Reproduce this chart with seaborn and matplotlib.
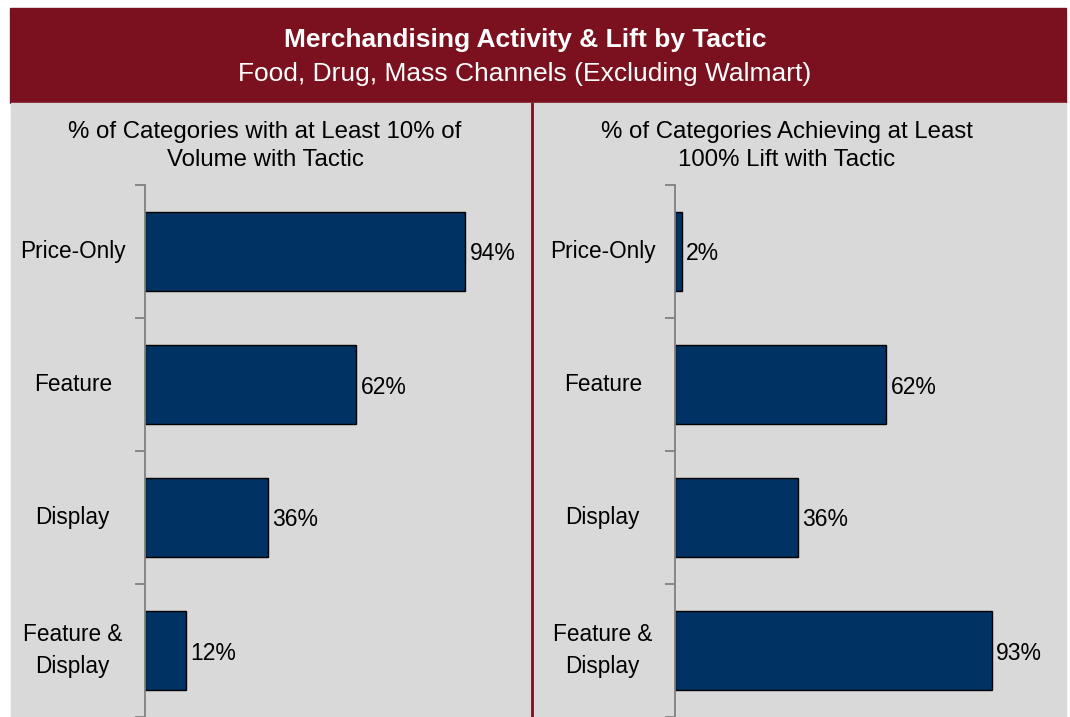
import seaborn as sns
import matplotlib.pyplot as plt
import pandas as pd
from matplotlib.patches import Rectangle
from matplotlib.lines import Line2D

tactics = ["Price-Only", "Feature", "Display", "Feature &\nDisplay"]
volume_pct = [94, 62, 36, 12]
lift_pct = [2, 62, 36, 93]

title = "Merchandising Activity & Lift by Tactic"
subtitle = "Food, Drug, Mass Channels (Excluding Walmart)"
left_title = "% of Categories with at Least 10% of\nVolume with Tactic"
right_title = "% of Categories Achieving at Least\n100% Lift with Tactic"

MAROON = "#7B111E"
PANEL = "#D9D9D9"
NAVY = "#003263"
W, H = 1070, 717

sns.set_theme(style="white")
plt.rcParams['font.family'] = ['Liberation Sans', 'DejaVu Sans']

fig = plt.figure(figsize=(W / 100, H / 100), dpi=100)
fig.patch.set_facecolor("white")

# banner and grey panel
fig.patches.append(Rectangle((10 / W, 1 - 103 / H), 1056 / W, 95 / H,
                             transform=fig.transFigure, color=MAROON, zorder=-2))
fig.patches.append(Rectangle((11 / W, 0), 1055 / W, 1 - 103 / H,
                             transform=fig.transFigure, color=PANEL, zorder=-2))
fig.lines.append(Line2D([532 / W, 532 / W], [0, 1 - 103 / H], transform=fig.transFigure,
                        color=MAROON, lw=2, zorder=-1))

fig.text(525 / W, 1 - 40 / H, title, color="white", fontsize=19, fontweight="bold",
         ha="center", va="center")
fig.text(525 / W, 1 - 74 / H, subtitle, color="white", fontsize=19,
         ha="center", va="center")


def draw_panel(x0, values, heading, heading_x):
    ax = fig.add_axes([x0 / W, 0, 375 / W, 532 / H])
    ax.set_zorder(2)
    df = pd.DataFrame({"tactic": tactics, "pct": values})
    sns.barplot(data=df, x="pct", y="tactic", orient="h", color=NAVY, saturation=1,
                width=0.59, edgecolor="black", linewidth=1, ax=ax)
    ax.set_facecolor("none")
    ax.set_xlim(0, 110)
    ax.set_ylim(3.5, -0.5)
    ax.set_xlabel("")
    ax.set_ylabel("")
    ax.set_xticks([])
    for s in ["top", "right", "bottom"]:
        ax.spines[s].set_visible(False)
    ax.spines["left"].set_color("#808080")
    ax.spines["left"].set_linewidth(1.3)
    ax.set_yticks([i + 0.5 for i in range(-1, 4)], minor=False)
    ax.set_yticklabels([])
    ax.tick_params(axis="y", which="major", direction="out", length=7, width=1.3,
                   color="#808080", left=True)
    ax.set_yticks(range(len(tactics)), minor=True)
    ax.set_yticklabels(tactics, minor=True, fontsize=16.3, color="black",
                       ha="center", va="center", linespacing=1.45)
    ax.tick_params(axis="y", which="minor", length=0, pad=52)
    for i, v in enumerate(values):
        ax.text(v + 1.2, i, f"{v}%", va="center_baseline", ha="left", fontsize=16.5,
                color="black")
    fig.text(heading_x / W, 1 - 146 / H, heading, ha="center", va="center",
             fontsize=17.3, color="black", linespacing=1.3)
    return ax


draw_panel(145, volume_pct, left_title, 265)
draw_panel(675, lift_pct, right_title, 787)

fig.savefig("out.png", dpi=100)
